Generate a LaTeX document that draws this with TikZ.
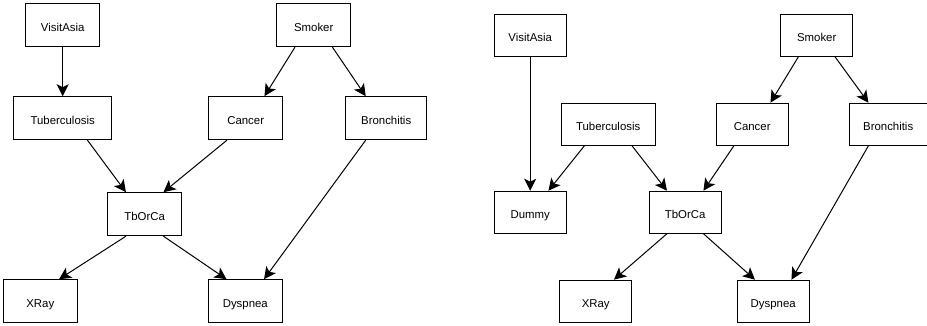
\documentclass[tikz,border=0pt]{standalone}
\usepackage{fontspec}
\setmainfont{Liberation Sans}
\usepackage{tikz}
\usetikzlibrary{positioning,calc,arrows.meta}

\begin{document}
\begin{tikzpicture}[x=1pt, y=-1pt,
				var/.style={rectangle, draw=black, line width=1pt, minimum width=74pt, minimum height=43pt, font=\fontsize{11.4}{13}\selectfont, text height=13pt, text depth=0pt},
				link/.style={line width=1pt, -{Stealth[length=12pt, width=12pt, inset=3pt]}}
			]
			\useasboundingbox (0,0) rectangle (927,326);
			% left network
			\node[var] (visitasia) at (62.7,25.2) {VisitAsia};
			\node[var] (smoker) [right=176pt of visitasia] {Smoker};
			\node[var, minimum width=98pt] (tuberculosis) [below=49pt of visitasia] {Tuberculosis};
			\node[var] (cancer) [right=96pt of tuberculosis] {Cancer};
			\node[var, minimum width=81pt] (bronchitis) [right=62pt of cancer] {Bronchitis};
			\node[var] (tborca) [below right=52pt and -5pt of tuberculosis] {TbOrCa};
			\node[var] (xray) [below left=43pt and 29.4pt of tborca] {XRay};
			\node[var] (dyspnea) [right=130pt of xray] {Dyspnea};
			\begin{scope}[link]
			\draw (visitasia.south) -- (tuberculosis.north);
			\draw ($(smoker.south west)!.25!(smoker.south east)$) -- ($(cancer.north west)!.75!(cancer.north east)$);
			\draw ($(smoker.south west)!.75!(smoker.south east)$) -- ($(bronchitis.north west)!.25!(bronchitis.north east)$);
			\draw ($(tuberculosis.south west)!.75!(tuberculosis.south east)$) -- ($(tborca.north west)!.25!(tborca.north east)$);
			\draw ($(cancer.south west)!.25!(cancer.south east)$) -- ($(tborca.north west)!.75!(tborca.north east)$);
			\draw ($(bronchitis.south west)!.25!(bronchitis.south east)$) -- ($(dyspnea.north west)!.75!(dyspnea.north east)$);
			\draw ($(tborca.south west)!.25!(tborca.south east)$) -- ($(xray.north west)!.75!(xray.north east)$);
			\draw ($(tborca.south west)!.75!(tborca.south east)$) -- ($(dyspnea.north west)!.25!(dyspnea.north east)$);
			\end{scope}
			% right network, with dummy node
			\begin{scope}[var/.append style={minimum width=72pt, minimum height=42pt}]
			\node[var] (visitasia2) at (530.2,35.2) {VisitAsia};
			\node[var] (smoker2) [right=213.5pt of visitasia2] {Smoker};
			\node[var, minimum width=94pt] (tuberculosis2) [below right=46pt and -6pt of visitasia2] {Tuberculosis};
			\node[var] (cancer2) [right=60pt of tuberculosis2] {Cancer};
			\node[var, minimum width=78pt] (bronchitis2) [right=60pt of cancer2] {Bronchitis};
			\node[var] (dummy) [below=134pt of visitasia2] {Dummy};
			\node[var] (tborca2) [right=82pt of dummy] {TbOrCa};
			\node[var] (xray2) [below left=46pt and 16.5pt of tborca2] {XRay};
			\node[var] (dyspnea2) [right=104.5pt of xray2] {Dyspnea};
			\end{scope}
			\begin{scope}[link]
			\draw (visitasia2.south) -- (dummy.north);
			\draw ($(tuberculosis2.south west)!.25!(tuberculosis2.south east)$) -- ($(dummy.north west)!.75!(dummy.north east)$);
			\draw ($(tuberculosis2.south west)!.75!(tuberculosis2.south east)$) -- ($(tborca2.north west)!.25!(tborca2.north east)$);
			\draw ($(cancer2.south west)!.25!(cancer2.south east)$) -- ($(tborca2.north west)!.75!(tborca2.north east)$);
			\draw ($(smoker2.south west)!.25!(smoker2.south east)$) -- ($(cancer2.north west)!.75!(cancer2.north east)$);
			\draw ($(smoker2.south west)!.75!(smoker2.south east)$) -- ($(bronchitis2.north west)!.25!(bronchitis2.north east)$);
			\draw ($(bronchitis2.south west)!.25!(bronchitis2.south east)$) -- ($(dyspnea2.north west)!.75!(dyspnea2.north east)$);
			\draw ($(tborca2.south west)!.25!(tborca2.south east)$) -- ($(xray2.north west)!.75!(xray2.north east)$);
			\draw ($(tborca2.south west)!.75!(tborca2.south east)$) -- ($(dyspnea2.north west)!.25!(dyspnea2.north east)$);
			\end{scope}
			\end{tikzpicture}
\end{document}
